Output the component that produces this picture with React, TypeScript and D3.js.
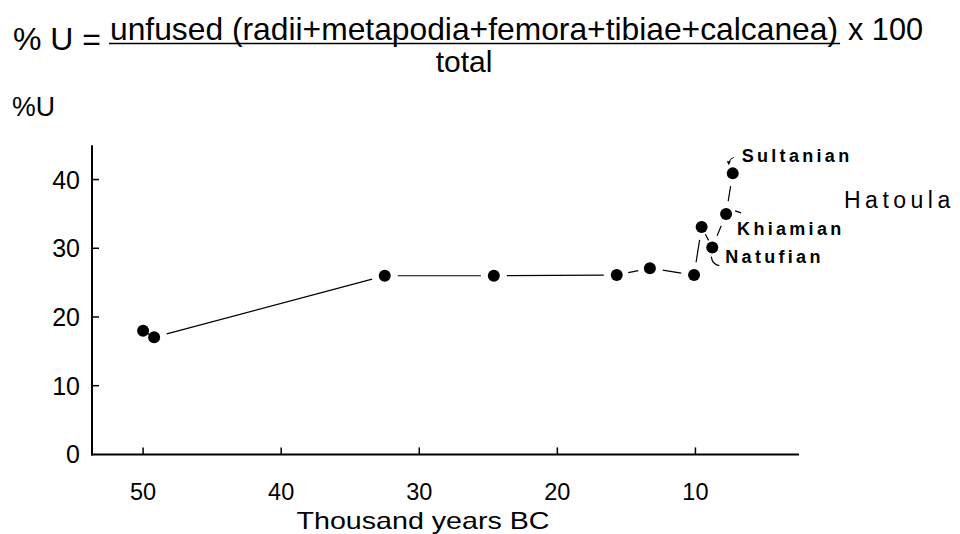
import React from "react";
import * as d3 from "d3";

const years: number[] = [50, 49.2, 32.5, 24.6, 15.7, 13.3, 10.1, 9.55, 8.78, 7.78, 7.3];
const pctU: number[] = [18.0, 17.05, 26.0, 26.0, 26.1, 27.1, 26.1, 33.1, 30.1, 35.0, 40.9];
const xTicks: number[] = [50, 40, 30, 20, 10];
const yTicks: number[] = [0, 10, 20, 30, 40];
const periodNames: string[] = ["Sultanian", "Khiamian", "Natufian"];
const periodPointIndex: number[] = [10, 9, 8];
const siteName = "Hatoula";
const numeratorText = "unfused (radii+metapodia+femora+tibiae+calcanea)";
const xLabel = "Thousand years BC";
const yLabel = "%U";

const W = 960;
const H = 534;
const FONT = "'Liberation Sans', Arial, Helvetica, sans-serif";

export default function App() {
  const x = d3.scaleLinear().domain([53.7, 2.5]).range([92, 799]);
  const y = d3.scaleLinear().domain([0, 45]).range([454.4, 145.2]);

  const pts = years.map((v, i) => [x(v), y(pctU[i])] as [number, number]);

  const segs: { x1: number; y1: number; x2: number; y2: number }[] = [];
  for (let i = 0; i < pts.length - 1; i++) {
    const [ax, ay] = pts[i];
    const [bx, by] = pts[i + 1];
    const d = Math.hypot(bx - ax, by - ay);
    const gap = Math.min(13, d * 0.35);
    const ux = (bx - ax) / d;
    const uy = (by - ay) / d;
    segs.push({ x1: ax + ux * gap, y1: ay + uy * gap, x2: bx - ux * gap, y2: by - uy * gap });
  }

  const labelOffsets = [
    [9, -11],
    [11, 21],
    [13, 15],
  ];

  const lineGen = d3.line();

  const sP = pts[periodPointIndex[0]];
  const kP = pts[periodPointIndex[1]];
  const nP = pts[periodPointIndex[2]];

  return (
    <svg
      width={W}
      height={H}
      style={{ position: "absolute", left: 0, top: 0, background: "#fff" }}
      fontFamily={FONT}
    >
      <rect x={0} y={0} width={W} height={H} fill="#fff" />
      {/* formula */}
      <text x={13} y={50} fontSize={32} fill="#000" textLength={88} lengthAdjust="spacingAndGlyphs">
        % U =
      </text>
      <text x={110} y={40} fontSize={32} fill="#000" textLength={728} lengthAdjust="spacingAndGlyphs">
        {numeratorText}
      </text>
      <line x1={109} x2={840} y1={43.5} y2={43.5} stroke="#000" strokeWidth={1.6} />
      <text x={848} y={40} fontSize={32} fill="#000" textLength={75} lengthAdjust="spacingAndGlyphs">
        x 100
      </text>
      <text x={464} y={72} fontSize={30} fill="#000" textAnchor="middle">
        total
      </text>
      <text x={12} y={116} fontSize={27} fill="#000" textLength={43} lengthAdjust="spacingAndGlyphs">
        {yLabel}
      </text>

      {/* axes */}
      <line x1={92} x2={92} y1={y(45)} y2={y(0) + 1} stroke="#000" strokeWidth={2} />
      <line x1={91} x2={799} y1={y(0)} y2={y(0)} stroke="#000" strokeWidth={2} />
      {yTicks.map((t) => (
        <g key={"y" + t}>
          {t !== 0 && <line x1={92} x2={99} y1={y(t)} y2={y(t)} stroke="#000" strokeWidth={1.5} />}
          <text x={80} y={y(t) + 9} fontSize={25} textAnchor="end" fill="#000">
            {t}
          </text>
        </g>
      ))}
      {xTicks.map((t) => (
        <g key={"x" + t}>
          <line x1={x(t)} x2={x(t)} y1={y(0)} y2={y(0) - 7} stroke="#000" strokeWidth={1.5} />
          <text x={x(t)} y={500} fontSize={23.5} textAnchor="middle" fill="#000">
            {t}
          </text>
        </g>
      ))}
      <text x={423} y={529} fontSize={24} textAnchor="middle" fill="#000" textLength={253} lengthAdjust="spacingAndGlyphs">
        {xLabel}
      </text>

      {/* data line segments */}
      {segs.map((s, i) => (
        <path
          key={"s" + i}
          d={lineGen([[s.x1, s.y1], [s.x2, s.y2]]) || ""}
          stroke="#000"
          strokeWidth={1.2}
          fill="none"
        />
      ))}
      {pts.map(([px, py], i) => (
        <circle key={"p" + i} cx={px} cy={py} r={6} fill="#000" />
      ))}

      {/* period labels */}
      {periodNames.map((n, i) => {
        const [px, py] = pts[periodPointIndex[i]];
        return (
          <text
            key={n}
            x={px + labelOffsets[i][0]}
            y={py + labelOffsets[i][1]}
            fontSize={18}
            fontWeight="bold"
            letterSpacing={3.3}
            fill="#000"
          >
            {n}
          </text>
        );
      })}
      {/* leaders */}
      <path
        d={`M${sP[0] + 1} ${sP[1] - 16} Q${sP[0] - 3} ${sP[1] - 15} ${sP[0] - 4} ${sP[1] - 10}`}
        stroke="#000"
        strokeWidth={1}
        fill="none"
      />
      <path
        d={`M${sP[0] - 6} ${sP[1] - 12} L${sP[0] - 4} ${sP[1] - 8} L${sP[0] - 2} ${sP[1] - 12} Z`}
        fill="#000"
      />
      <line x1={kP[0] + 9} y1={kP[1] - 3} x2={kP[0] + 15} y2={kP[1] - 1} stroke="#000" strokeWidth={1.2} />
      <path
        d={`M${nP[0] - 1} ${nP[1] + 9} Q${nP[0]} ${nP[1] + 17} ${nP[0] + 7} ${nP[1] + 18}`}
        stroke="#000"
        strokeWidth={1.2}
        fill="none"
      />

      <text x={844} y={208} fontSize={23} letterSpacing={4.5} fill="#000">
        {siteName}
      </text>
    </svg>
  );
}
